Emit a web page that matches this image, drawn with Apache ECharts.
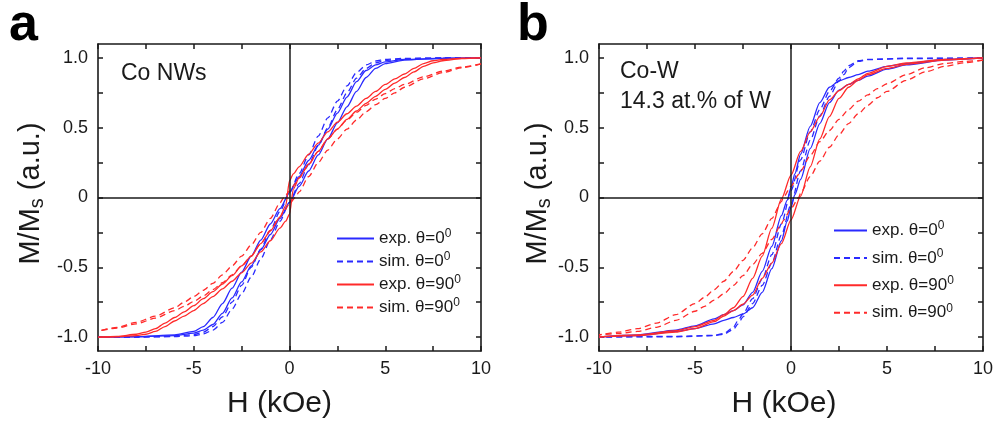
<!DOCTYPE html>
<html><head><meta charset="utf-8">
<script src="https://cdn.jsdelivr.net/npm/echarts@6/dist/echarts.min.js"></script>
<style>html,body{margin:0;padding:0;background:#fff}#c{width:995px;height:422px}</style>
</head><body><div id="c"></div><script>
// ---- tick values ----
const xTicks = [-10, -7.5, -5, -2.5, 0, 2.5, 5, 7.5, 10];
const xLabels = [-10, -5, 0, 5, 10];
const yTicks = [-1, -0.75, -0.5, -0.25, 0, 0.25, 0.5, 0.75, 1];
const yLabels = [-1, -0.5, 0, 0.5, 1];

// ---- panel a : Co NWs ----
const aExp0_H = [10, 8, 6, 5, 4.5, 4, 3.5, 3, 2.5, 2, 1.5, 1, 0.5, 0, -0.5, -1, -1.5, -2, -2.5, -3, -3.5, -4, -4.5, -5, -6, -8, -10];
const aExp0_down = [1.0, 0.998, 0.99, 0.972, 0.95, 0.91, 0.83, 0.72, 0.605, 0.49, 0.375, 0.265, 0.15, 0.035, -0.08, -0.19, -0.305, -0.42, -0.535, -0.65, -0.76, -0.86, -0.925, -0.96, -0.985, -0.997, -1.0];
const aExp0_up = [1.0, 0.997, 0.985, 0.96, 0.925, 0.86, 0.76, 0.65, 0.535, 0.42, 0.305, 0.19, 0.08, -0.035, -0.15, -0.265, -0.375, -0.49, -0.605, -0.72, -0.83, -0.91, -0.95, -0.972, -0.99, -0.998, -1.0];

const aSim0_H = [10, 8, 6, 5, 4.5, 4, 3.5, 3, 2.5, 2, 1.5, 1, 0.5, 0, -0.5, -1, -1.5, -2, -2.5, -3, -3.5, -4, -4.5, -5, -6, -8, -10];
const aSim0_down = [1.0, 1.0, 0.997, 0.99, 0.978, 0.95, 0.895, 0.80, 0.69, 0.57, 0.44, 0.305, 0.17, 0.035, -0.10, -0.235, -0.37, -0.50, -0.63, -0.75, -0.855, -0.925, -0.965, -0.982, -0.995, -1.0, -1.0];
const aSim0_up = [1.0, 1.0, 0.995, 0.982, 0.965, 0.925, 0.855, 0.75, 0.63, 0.50, 0.37, 0.235, 0.10, -0.035, -0.17, -0.305, -0.44, -0.57, -0.69, -0.80, -0.895, -0.95, -0.978, -0.99, -0.997, -1.0, -1.0];

const aExp90_H = [10, 9, 8, 7.5, 7, 6.5, 6, 5.5, 5, 4.5, 4, 3.5, 3, 2.5, 2, 1.5, 1, 0.5, 0.2, 0, -0.2, -0.5, -1, -1.5, -2, -2.5, -3, -3.5, -4, -4.5, -5, -5.5, -6, -6.5, -7, -7.5, -8, -9, -10];
const aExp90_down = [1.0, 0.998, 0.99, 0.98, 0.96, 0.925, 0.885, 0.85, 0.81, 0.76, 0.71, 0.655, 0.60, 0.54, 0.47, 0.39, 0.31, 0.22, 0.17, 0.12, -0.06, -0.14, -0.24, -0.33, -0.42, -0.49, -0.56, -0.62, -0.675, -0.725, -0.775, -0.82, -0.86, -0.90, -0.94, -0.965, -0.98, -0.995, -1.0];
const aExp90_up = [1.0, 0.995, 0.98, 0.965, 0.94, 0.90, 0.86, 0.82, 0.775, 0.725, 0.675, 0.62, 0.56, 0.49, 0.42, 0.33, 0.24, 0.14, 0.06, -0.12, -0.17, -0.22, -0.31, -0.39, -0.47, -0.54, -0.60, -0.655, -0.71, -0.76, -0.81, -0.85, -0.885, -0.925, -0.96, -0.98, -0.99, -0.998, -1.0];

const aSim90_H = [10, 9, 8, 7, 6, 5.5, 5, 4.5, 4, 3.5, 3, 2.5, 2, 1.5, 1, 0.5, 0.3, 0, -0.3, -0.5, -1, -1.5, -2, -2.5, -3, -3.5, -4, -4.5, -5, -5.5, -6, -7, -8, -9, -10];
const aSim90_down = [0.958, 0.935, 0.905, 0.865, 0.81, 0.78, 0.745, 0.705, 0.66, 0.61, 0.555, 0.49, 0.42, 0.33, 0.235, 0.14, 0.10, 0.045, 0.0, -0.04, -0.15, -0.25, -0.34, -0.42, -0.49, -0.555, -0.615, -0.665, -0.71, -0.75, -0.79, -0.85, -0.895, -0.93, -0.958];
const aSim90_up = [0.958, 0.93, 0.895, 0.85, 0.79, 0.75, 0.71, 0.665, 0.615, 0.555, 0.49, 0.42, 0.34, 0.25, 0.15, 0.04, 0.0, -0.045, -0.10, -0.14, -0.235, -0.33, -0.42, -0.49, -0.555, -0.61, -0.66, -0.705, -0.745, -0.78, -0.81, -0.865, -0.905, -0.935, -0.958];

// ---- panel b : Co-W, 14.3 at.% of W ----
const bExp0_H = [10, 8, 6, 5, 4, 3.5, 3, 2.5, 2, 1.5, 1, 0.5, 0.2, 0, -0.2, -0.5, -1, -1.5, -2, -2.5, -3, -3.5, -4, -5, -6, -8, -10];
const bExp0_down = [1.0, 0.99, 0.96, 0.94, 0.905, 0.88, 0.86, 0.835, 0.79, 0.68, 0.51, 0.31, 0.17, 0.07, -0.02, -0.13, -0.35, -0.53, -0.68, -0.77, -0.81, -0.84, -0.87, -0.92, -0.95, -0.985, -1.0];
const bExp0_up = [1.0, 0.985, 0.95, 0.92, 0.87, 0.84, 0.81, 0.77, 0.68, 0.53, 0.35, 0.13, 0.02, -0.07, -0.17, -0.31, -0.51, -0.68, -0.79, -0.835, -0.86, -0.88, -0.905, -0.94, -0.96, -0.99, -1.0];

const bSim0_H = [10, 6, 4, 3.5, 3, 2.75, 2.5, 2, 1.5, 1, 0.5, 0, -0.5, -1, -1.5, -2, -2.5, -2.75, -3, -3.5, -4, -6, -10];
const bSim0_down = [1.0, 0.998, 0.99, 0.98, 0.945, 0.905, 0.855, 0.76, 0.63, 0.47, 0.27, 0.05, -0.19, -0.41, -0.585, -0.725, -0.835, -0.88, -0.93, -0.975, -0.988, -0.995, -1.0];
const bSim0_up = [1.0, 0.995, 0.988, 0.975, 0.93, 0.88, 0.835, 0.725, 0.585, 0.41, 0.19, -0.05, -0.27, -0.47, -0.63, -0.76, -0.855, -0.905, -0.945, -0.98, -0.99, -0.998, -1.0];

const bExp90_H = [10, 8, 6, 5, 4, 3.5, 3, 2.5, 2, 1.5, 1, 0.5, 0, -0.5, -1, -1.5, -2, -2.5, -3, -3.5, -4, -5, -6, -8, -10];
const bExp90_down = [1.0, 0.99, 0.965, 0.94, 0.89, 0.85, 0.81, 0.765, 0.70, 0.58, 0.47, 0.33, 0.16, -0.01, -0.22, -0.42, -0.58, -0.71, -0.79, -0.84, -0.88, -0.925, -0.955, -0.985, -1.0];
const bExp90_up = [1.0, 0.985, 0.955, 0.925, 0.88, 0.84, 0.79, 0.71, 0.58, 0.42, 0.22, 0.01, -0.16, -0.33, -0.47, -0.58, -0.70, -0.765, -0.81, -0.85, -0.89, -0.94, -0.965, -0.99, -1.0];

const bSim90_H = [10, 9, 8, 7, 6, 5, 4.5, 4, 3.5, 3, 2.5, 2, 1.5, 1, 0.5, 0.4, 0, -0.4, -0.5, -1, -1.5, -2, -2.5, -3, -3.5, -4, -4.5, -5, -6, -7, -8, -9, -10];
const bSim90_down = [0.985, 0.975, 0.96, 0.93, 0.88, 0.815, 0.78, 0.735, 0.69, 0.63, 0.56, 0.48, 0.40, 0.30, 0.19, 0.165, 0.08, 0.0, -0.03, -0.15, -0.26, -0.36, -0.45, -0.53, -0.60, -0.66, -0.715, -0.76, -0.84, -0.90, -0.94, -0.965, -0.985];
const bSim90_up = [0.985, 0.965, 0.94, 0.90, 0.84, 0.76, 0.715, 0.66, 0.60, 0.53, 0.45, 0.36, 0.26, 0.15, 0.03, 0.0, -0.08, -0.165, -0.19, -0.30, -0.40, -0.48, -0.56, -0.63, -0.69, -0.735, -0.78, -0.815, -0.88, -0.93, -0.96, -0.975, -0.985];

// ---- legend texts ----
const legendText = {
  a_e0: 'exp. θ=0', a_s0: 'sim. θ=0', a_e90: 'exp. θ=90', a_s90: 'sim. θ=90',
  b_e0: 'exp. θ=0', b_s0: 'sim. θ=0', b_e90: 'exp. θ=90', b_s90: 'sim. θ=90'
};

const BLUE = '#2a2aff';
const RED = '#ff2a2a';
const FONT = 'Liberation Sans, Arial, Helvetica, sans-serif';
const INK = '#1a1a1a';

const loops = [
  { key: 'a_e0', p: 0, H: aExp0_H, down: aExp0_down, up: aExp0_up, color: BLUE, dash: false },
  { key: 'a_s0', p: 0, H: aSim0_H, down: aSim0_down, up: aSim0_up, color: BLUE, dash: true },
  { key: 'a_e90', p: 0, H: aExp90_H, down: aExp90_down, up: aExp90_up, color: RED, dash: false },
  { key: 'a_s90', p: 0, H: aSim90_H, down: aSim90_down, up: aSim90_up, color: RED, dash: true },
  { key: 'b_e0', p: 1, H: bExp0_H, down: bExp0_down, up: bExp0_up, color: BLUE, dash: false },
  { key: 'b_s0', p: 1, H: bSim0_H, down: bSim0_down, up: bSim0_up, color: BLUE, dash: true },
  { key: 'b_e90', p: 1, H: bExp90_H, down: bExp90_down, up: bExp90_up, color: RED, dash: false },
  { key: 'b_s90', p: 1, H: bSim90_H, down: bSim90_down, up: bSim90_up, color: RED, dash: true }
];

const series = [];
loops.forEach((L, idx) => {
  ['down', 'up'].forEach((br, j) => {
    const s = {
      name: L.key, type: 'line',
      xAxisIndex: L.p * 2, yAxisIndex: L.p * 2,
      data: L.H.map((h, i) => [h, L[br][i]]),
      symbol: 'none', showSymbol: false,
      smooth: 0.25, smoothMonotone: 'x',
      lineStyle: { color: L.color, width: 1.3, type: L.dash ? [6, 4] : 'solid' },
      itemStyle: { color: L.color },
      emphasis: { disabled: true },
      silent: true, z: 3
    };
    if ((idx === 0 || idx === 4) && j === 0) {
      s.markLine = {
        silent: true, symbol: 'none', label: { show: false },
        lineStyle: { color: INK, type: 'solid', width: 1.5 },
        emphasis: { disabled: true },
        data: [{ xAxis: 0 }, { yAxis: 0 }]
      };
    }
    series.push(s);
  });
});

const grids = [
  { left: 98, top: 44, width: 383, height: 307, containLabel: false, outerBoundsMode: 'none' },
  { left: 599, top: 44, width: 384, height: 307, containLabel: false, outerBoundsMode: 'none' }
];

function xAx(g, pos, shift) {
  const bottom = pos === 'bottom';
  return {
    type: 'value', gridIndex: g, position: pos, min: -10, max: 10,
    axisLine: { show: true, onZero: false, lineStyle: { color: INK, width: 1.6 } },
    axisTick: { show: true, inside: true, length: 5, customValues: xTicks, lineStyle: { color: INK, width: 1.5 } },
    axisLabel: bottom ? {
      show: true, customValues: xLabels, margin: 9, fontSize: 18, fontFamily: FONT, color: INK,
      formatter: v => String(v)
    } : { show: false },
    splitLine: { show: false },
    name: bottom ? 'H (kOe)' : '', nameLocation: 'middle', nameGap: 38,
    nameTextStyle: { fontSize: 30, fontFamily: FONT, color: INK, padding: [0, shift || 0, 0, 0] }
  };
}
function yAx(g, pos, gap) {
  const left = pos === 'left';
  return {
    type: 'value', gridIndex: g, position: pos, min: -1.1, max: 1.1,
    axisLine: { show: true, onZero: false, lineStyle: { color: INK, width: 1.6 } },
    axisTick: { show: true, inside: true, length: 5, customValues: yTicks, lineStyle: { color: INK, width: 1.5 } },
    axisLabel: left ? {
      show: true, customValues: yLabels, margin: 10, fontSize: 18, fontFamily: FONT, color: INK,
      formatter: v => (v === 0 ? '0' : v.toFixed(1))
    } : { show: false },
    splitLine: { show: false },
    name: left ? '{n|M/M}{s|s}{n| (a.u.)}' : '', nameLocation: 'middle', nameRotate: 90, nameGap: gap || 50,
    nameTextStyle: {
      fontSize: 29, fontFamily: FONT, color: INK, padding: [0, 0, 0, 8],
      rich: {
        n: { fontSize: 29, fontFamily: FONT, color: INK },
        s: { fontSize: 20, fontFamily: FONT, color: INK, padding: [12, 0, 0, 0] }
      }
    }
  };
}

const legendRich = {
  t: { fontSize: 17, fontFamily: FONT, color: INK },
  p: { fontSize: 12, fontFamily: FONT, color: INK, padding: [0, 0, 9, 0] }
};
function legend(keys, left, top, w, gap) {
  return {
    orient: 'vertical', left: left, top: top, itemWidth: w, itemHeight: 14, itemGap: gap,
    padding: 0,
    data: keys, selectedMode: false,
    itemStyle: { opacity: 0 },
    formatter: k => '{t|' + legendText[k] + '}{p|0}',
    textStyle: { fontSize: 17, fontFamily: FONT, color: INK, rich: legendRich }
  };
}

const option = {
  animation: false,
  backgroundColor: '#fff',
  grid: grids,
  xAxis: [xAx(0, 'bottom', 20), xAx(0, 'top'), xAx(1, 'bottom', 14), xAx(1, 'top')],
  yAxis: [yAx(0, 'left', 51), yAx(0, 'right'), yAx(1, 'left', 45), yAx(1, 'right')],
  legend: [
    legend(['a_e0', 'a_s0', 'a_e90', 'a_s90'], 336, 228, 37, 4),
    legend(['b_e0', 'b_s0', 'b_e90', 'b_s90'], 833, 220, 33, 8.4)
  ],
  graphic: [
    { type: 'text', left: 9, top: 0, style: { text: 'a', font: 'bold 52px ' + FONT, fill: '#000' } },
    { type: 'text', left: 517, top: 0, style: { text: 'b', font: 'bold 52px ' + FONT, fill: '#000' } },
    { type: 'text', left: 121, top: 62, style: { text: 'Co NWs', font: '23px ' + FONT, fill: INK } },
    { type: 'text', left: 620, top: 60, style: { text: 'Co-W', font: '23px ' + FONT, fill: INK } },
    { type: 'text', left: 620, top: 90, style: { text: '14.3 at.% of W', font: '23px ' + FONT, fill: INK } }
  ],
  series: series
};

const chart = echarts.init(document.getElementById('c'), null, { renderer: 'canvas' });
chart.setOption(option);
</script></body></html>
